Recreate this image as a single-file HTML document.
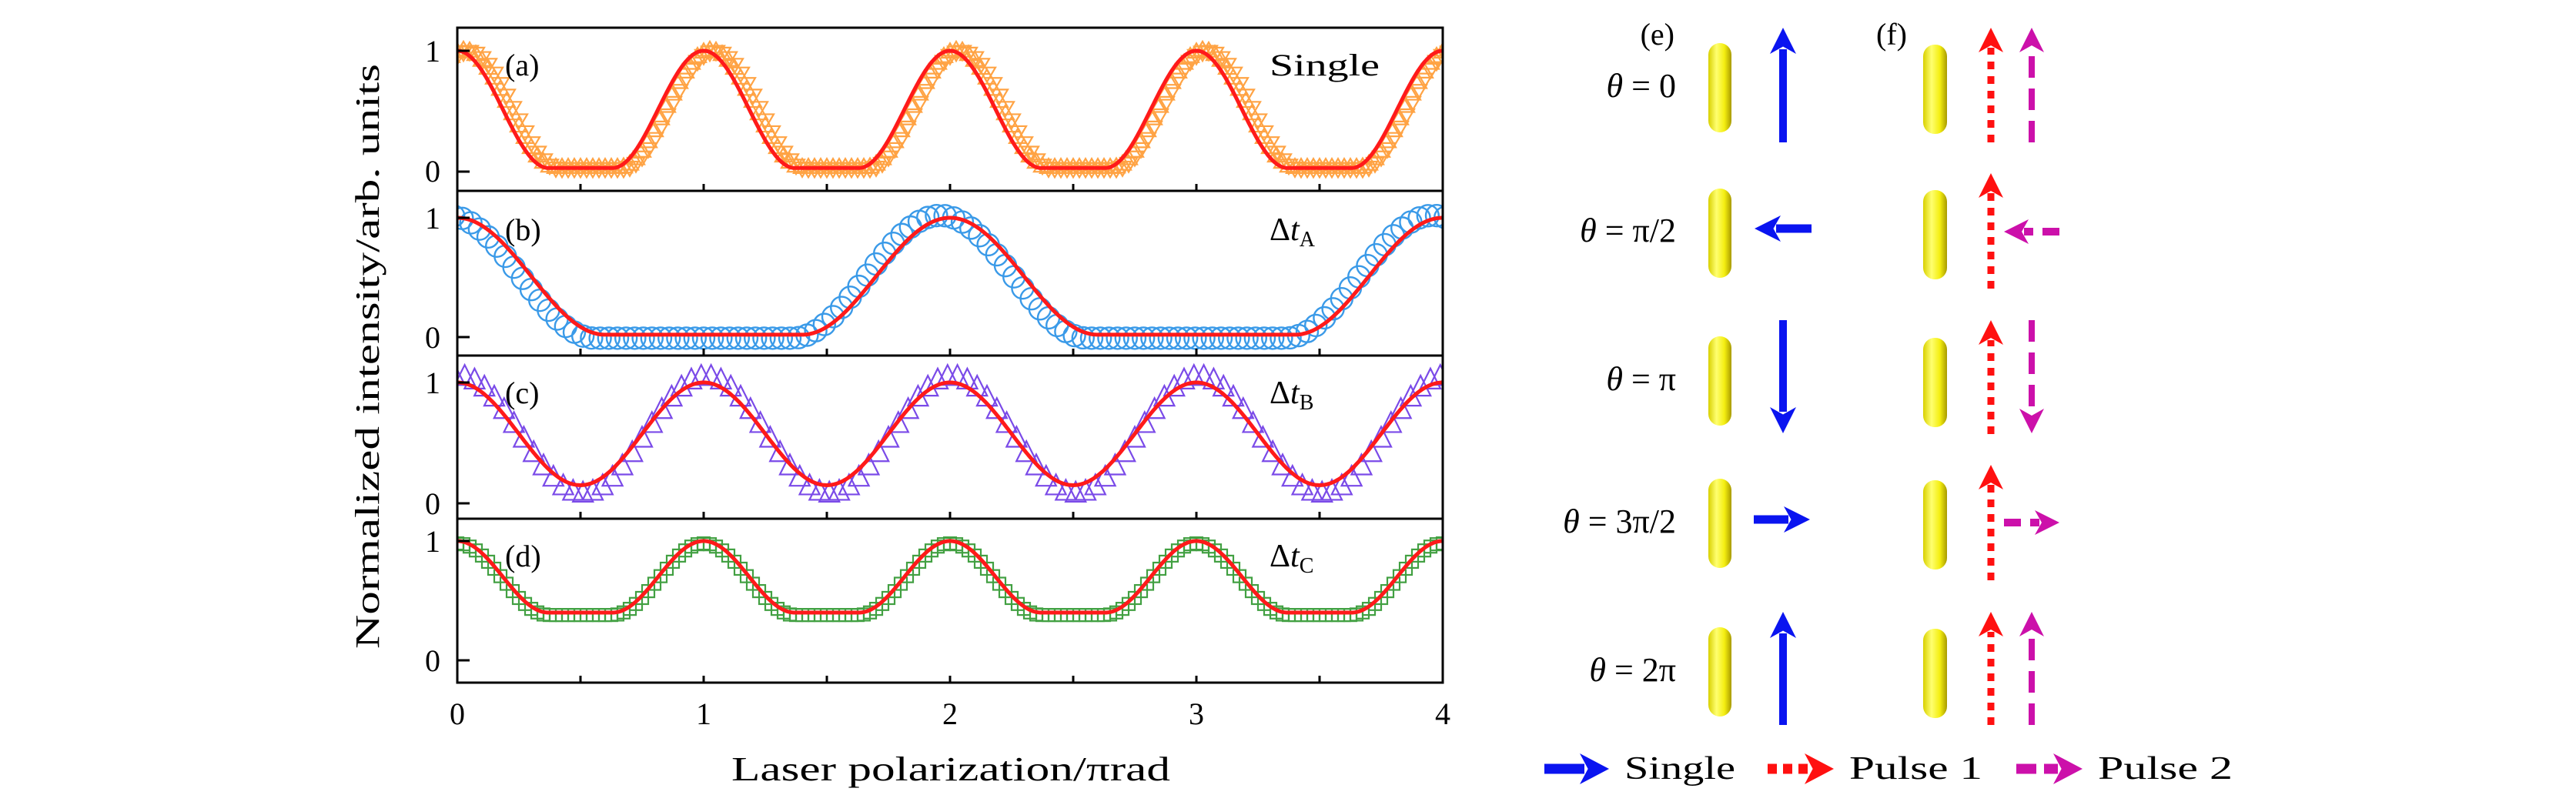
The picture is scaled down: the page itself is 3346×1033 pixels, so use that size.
<!DOCTYPE html>
<html><head><meta charset="utf-8"><style>
html,body{margin:0;padding:0;background:#fff;}
svg{display:block;font-family:"Liberation Serif",serif;}
</style></head><body>
<svg id="s" width="3346" height="1033" viewBox="0 0 3346 1033" xmlns="http://www.w3.org/2000/svg">
<defs>
<linearGradient id="rod" x1="0" x2="1" y1="0" y2="0">
<stop offset="0" stop-color="#d8d000"/><stop offset="0.35" stop-color="#ffff70"/><stop offset="0.7" stop-color="#f4ee10"/><stop offset="1" stop-color="#a89a00"/>
</linearGradient>
<clipPath id="cp"><rect x="594" y="36" width="1280" height="851"/></clipPath>
</defs>
<g id="plots" clip-path="url(#cp)"></g>
<g id="frame" fill="none" stroke="#000" stroke-width="3"></g>
<g font-size="40" fill="#000">
<text x="572" y="80" text-anchor="end">1</text><text x="572" y="236" text-anchor="end">0</text>
<text x="572" y="297" text-anchor="end">1</text><text x="572" y="452" text-anchor="end">0</text>
<text x="572" y="511" text-anchor="end">1</text><text x="572" y="668" text-anchor="end">0</text>
<text x="572" y="717" text-anchor="end">1</text><text x="572" y="872" text-anchor="end">0</text>
<text x="594" y="941" text-anchor="middle">0</text><text x="914" y="941" text-anchor="middle">1</text>
<text x="1234" y="941" text-anchor="middle">2</text><text x="1554" y="941" text-anchor="middle">3</text>
<text x="1874" y="941" text-anchor="middle">4</text>
<text x="656" y="98">(a)</text><text x="656" y="312">(b)</text><text x="656" y="524">(c)</text><text x="656" y="736">(d)</text>
<text x="1649" y="98" textLength="143" lengthAdjust="spacingAndGlyphs">Single</text>
<text x="1649" y="312" font-size="42">Δ<tspan font-style="italic">t</tspan><tspan font-size="28" dy="8">A</tspan></text>
<text x="1649" y="524" font-size="42">Δ<tspan font-style="italic">t</tspan><tspan font-size="28" dy="8">B</tspan></text>
<text x="1649" y="736" font-size="42">Δ<tspan font-style="italic">t</tspan><tspan font-size="28" dy="8">C</tspan></text>
<text x="1235" y="1014" text-anchor="middle" font-size="44" textLength="570" lengthAdjust="spacingAndGlyphs">Laser polarization/πrad</text>
<text transform="translate(492,463) rotate(-90)" text-anchor="middle" font-size="44" textLength="760" lengthAdjust="spacingAndGlyphs">Normalized intensity/arb. units</text>
<text x="2175" y="58" text-anchor="end">(e)</text>
<text x="2477" y="58" text-anchor="end">(f)</text>
<g font-size="44">
<text x="2177" y="126" text-anchor="end"><tspan font-style="italic">θ</tspan> = 0</text>
<text x="2177" y="314" text-anchor="end"><tspan font-style="italic">θ</tspan> = π/2</text>
<text x="2177" y="507" text-anchor="end"><tspan font-style="italic">θ</tspan> = π</text>
<text x="2177" y="692" text-anchor="end"><tspan font-style="italic">θ</tspan> = 3π/2</text>
<text x="2177" y="885" text-anchor="end"><tspan font-style="italic">θ</tspan> = 2π</text>
</g>
<g font-size="42">
<text x="2110" y="1012" textLength="144" lengthAdjust="spacingAndGlyphs">Single</text>
<text x="2402" y="1012" textLength="173" lengthAdjust="spacingAndGlyphs">Pulse 1</text>
<text x="2725" y="1012" textLength="175" lengthAdjust="spacingAndGlyphs">Pulse 2</text>
</g>
</g>
<g id="right"></g>
</svg>
<script>
var NS="http://www.w3.org/2000/svg";
function el(p,t,a){var e=document.createElementNS(NS,t);for(var k in a)e.setAttribute(k,a[k]);p.appendChild(e);return e;}
var plots=document.getElementById('plots'),frame=document.getElementById('frame'),right=document.getElementById('right');
function X(x){return 594+320*x;}
var P=[[66,223],[283,438],[497,654],[703,858]];
function Y(i,v){return P[i][1]-v*(P[i][1]-P[i][0]);}
function bump(x,per,w,base,top){var d=x/per;d=Math.abs(d-Math.round(d))*per;var v=d<w?Math.pow(Math.cos(Math.PI*d/(2*w)),2):0;return base+(top-base)*v;}
var F=[function(x){return bump(x,1,0.37,0.03,1);},function(x){return bump(x,2,0.6,0.02,1);},function(x){return 0.15+0.85*Math.pow(Math.cos(Math.PI*x),2);},function(x){return bump(x,1,0.37,0.4,1);}];
var i,x,px,py,s;
var ga=el(plots,'g',{fill:'none',stroke:'#ff9a30','stroke-width':2.2,opacity:0.9});
for(x=-0.05;x<=4.05;x+=0.025){px=X(x);py=Y(0,F[0](x-0.03));s=11;
el(ga,'polygon',{points:(px-s)+','+(py+s*0.6)+' '+(px+s)+','+(py+s*0.6)+' '+px+','+(py-s*1.1)});
py=Y(0,F[0](x-0.045));el(ga,'polygon',{points:(px-s)+','+(py-s*0.6)+' '+(px+s)+','+(py-s*0.6)+' '+px+','+(py+s*1.1)});}
var gb=el(plots,'g',{fill:'none',stroke:'#3a9ae8','stroke-width':2.4});
for(x=-0.05;x<=4.05;x+=0.035){el(gb,'circle',{cx:X(x),cy:Y(1,F[1](x+0.04)*1.05-0.03),r:14});}
var gc=el(plots,'g',{fill:'none',stroke:'#7a4ae8','stroke-width':2.2});
for(x=-0.05;x<=4.05;x+=0.04){px=X(x);py=Y(2,0.08+0.97*Math.pow(Math.cos(Math.PI*(x-0.01)),2));s=13;
el(gc,'polygon',{points:(px-s)+','+(py+s*0.8)+' '+(px+s)+','+(py+s*0.8)+' '+px+','+(py-s*1.2)});}
var gd=el(plots,'g',{fill:'none',stroke:'#2e962e','stroke-width':2.2,opacity:0.9});
for(x=-0.05;x<=4.05;x+=0.025){px=X(x);py=Y(3,F[3](x)-0.02);el(gd,'rect',{x:px-8,y:py-8,width:16,height:16});}
for(i=0;i<4;i++){var d='';for(x=0;x<=4.0001;x+=0.005){d+=(x==0?'M':'L')+X(x).toFixed(1)+','+Y(i,F[i](x)).toFixed(1);}
el(plots,'path',{d:d,fill:'none',stroke:'#ff1a1a','stroke-width':5});}
var B=[36,248,462,674,887];
for(i=0;i<4;i++){el(frame,'rect',{x:594,y:B[i],width:1280,height:B[i+1]-B[i]});
for(var t=0.5;t<4;t+=0.5){el(frame,'line',{x1:X(t),x2:X(t),y1:B[i+1],y2:B[i+1]-9});}
el(frame,'line',{x1:594,x2:610,y1:P[i][0],y2:P[i][0]});el(frame,'line',{x1:594,x2:610,y1:P[i][1],y2:P[i][1]});}
var rows=[56,245,437,622,815];
rows.forEach(function(y){el(right,'rect',{x:2219,y:y,width:30,height:116,rx:15,fill:'url(#rod)'});el(right,'rect',{x:2498,y:y+2,width:31,height:116,rx:15,fill:'url(#rod)'});});
function arrow(x1,y1,x2,y2,col,w,hw,hl,dash){var dx=x2-x1,dy=y2-y1,L=Math.hypot(dx,dy),ux=dx/L,uy=dy/L;
var bx=x2-ux*hl,by=y2-uy*hl;
var a={x1:x1,y1:y1,x2:bx+ux*6,y2:by+uy*6,stroke:col,'stroke-width':w};if(dash)a['stroke-dasharray']=dash;el(right,'line',a);
var nx=-uy,ny=ux,ix=x2-ux*hl*0.72,iy=y2-uy*hl*0.72;
el(right,'polygon',{points:x2+','+y2+' '+(bx+nx*hw)+','+(by+ny*hw)+' '+ix+','+iy+' '+(bx-nx*hw)+','+(by-ny*hw),fill:col});}
var BL='#0a14f0',RD='#ff1010',MG='#cc10aa';
arrow(2316,185,2316,36,BL,10,17,34);
arrow(2353,297,2279,297,BL,11,17,34);
arrow(2316,416,2316,563,BL,10,17,34);
arrow(2278,675,2351,675,BL,11,17,34);
arrow(2316,942,2316,795,BL,10,17,34);
[[185,36],[375,225],[564,416],[754,604],[942,795]].forEach(function(r){arrow(2586,r[0],2586,r[1],RD,9,16,32,'10,9');});
arrow(2639,185,2639,36,MG,8,16,32,'28,14');
arrow(2675,301,2603,301,MG,10,16,32,'22,12');
arrow(2639,416,2639,563,MG,8,16,32,'28,14');
arrow(2603,679,2675,679,MG,10,16,32,'22,12');
arrow(2639,942,2639,795,MG,8,16,32,'28,14');
arrow(2006,999,2090,999,BL,13,20,38);
arrow(2296,999,2382,999,RD,13,20,38,'12,8');
arrow(2619,999,2705,999,MG,13,20,38,'26,10');
</script>
</body></html>
